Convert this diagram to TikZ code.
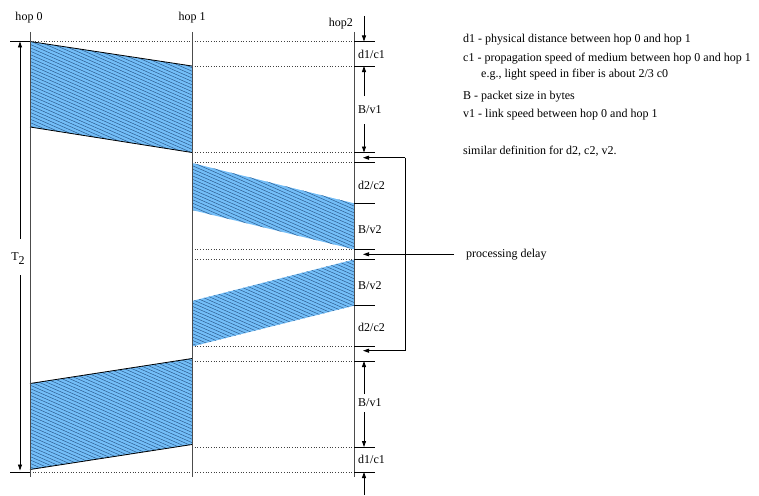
\documentclass[tikz,border=0pt]{standalone}
\usepackage{fontspec}
\setmainfont{Liberation Serif}
\usetikzlibrary{arrows.meta}
\definecolor{pfill}{RGB}{115,190,248}
\definecolor{phatch}{RGB}{40,85,135}
\newcommand{\hatchquad}[5]{%
  \begin{scope}
    \clip #1 -- #2 -- #3 -- #4 -- cycle;
    \fill[pfill] #1 -- #2 -- #3 -- #4 -- cycle;
    \foreach \k in {-175,-171.6,...,110}
      \draw[phatch,line width=0.45pt] (20,#5+\k) -- ++(360,158);
  \end{scope}}
\begin{document}
\begin{tikzpicture}[x=1pt,y=-1pt,
  font=\fontsize{12}{14}\selectfont,
  hopline/.style={draw=black!70,line width=0.8pt},
  dotline/.style={draw=black!75,line width=0.7pt,dotted},
  tickline/.style={draw=black,line width=0.8pt},
  edgeline/.style={draw=black,line width=0.8pt},
  dim/.style={draw=black,line width=0.8pt,-{Triangle[length=6pt,width=4pt]}},
  lbl/.style={inner sep=0pt,anchor=west},
  txt/.style={inner sep=0pt,anchor=base west}]
\useasboundingbox (0,0) rectangle (759,495);
\fill[white] (0,0) rectangle (759,495);

% hatched parallelograms
\coordinate (p1a) at (30,41.5);  \coordinate (p1b) at (192,66);
\coordinate (p1c) at (192,152.5);\coordinate (p1d) at (30,127);
\coordinate (p2a) at (192,163);  \coordinate (p2b) at (354,203.3);
\coordinate (p2c) at (354,249.3);\coordinate (p2d) at (192,210);
\coordinate (p3a) at (192,301);  \coordinate (p3b) at (354,259.5);
\coordinate (p3c) at (354,305.7);\coordinate (p3d) at (192,346.5);
\coordinate (p4a) at (30,383.5); \coordinate (p4b) at (192,358.5);
\coordinate (p4c) at (192,444.5);\coordinate (p4d) at (30,469.5);
\hatchquad{(p1a)}{(p1b)}{(p1c)}{(p1d)}{41.5}
\hatchquad{(p2a)}{(p2b)}{(p2c)}{(p2d)}{163}
\hatchquad{(p3a)}{(p3b)}{(p3c)}{(p3d)}{259.5}
\hatchquad{(p4a)}{(p4b)}{(p4c)}{(p4d)}{358.5}
\draw[edgeline] (p1a) -- (p1b);
\draw[edgeline] (p1d) -- (p1c);
\draw[edgeline] (p4a) -- (p4b);
\draw[edgeline] (p4d) -- (p4c);

% dotted time lines
\draw[dotline] (30,41.5) -- (354,41.5);
\foreach \y in {66,152.5,162.5,249.3,259.3,346,361,447}
  \draw[dotline] (192,\y) -- (354,\y);
\draw[dotline] (30,472) -- (354,472);

% hop lines
\coordinate (h0t) at (30,32);  \coordinate (h0b) at (30,477);
\coordinate (h1t) at (192,32); \coordinate (h1b) at (192,477);
\coordinate (h2t) at (354,32); \coordinate (h2b) at (354,477);
\draw[hopline] (h0t) -- (h0b);
\draw[hopline] (h1t) -- (h1b);
\draw[hopline] (h2t) -- (h2b);
\node[inner sep=0pt] (hop0) at (29,18) {hop 0};
\node[inner sep=0pt] (hop1) at (192,18) {hop 1};
\node[inner sep=0pt,anchor=east] (hop2) at (353,24) {hop2};

% left T2 marker
\draw[tickline] (10,41.5) -- (30,41.5);
\draw[tickline] (10,472) -- (30,472);
\node[inner sep=0pt] (t2) at (18,259) {T\raisebox{-4pt}{2}};
\coordinate (t2u) at (20,239); \coordinate (t2top) at (20,41.5);
\coordinate (t2d) at (20,275); \coordinate (t2bot) at (20,470.5);
\draw[dim] (t2u) -- (t2top);
\draw[dim] (t2d) -- (t2bot);

% hop2 ticks
\foreach \y in {41.5,66,152.5,162.5,203.3,249.3,259.3,305.7,346,361,447,472}
  \draw[tickline] (354,\y) -- (375,\y);

% hop2 labels
\node[lbl] (ldc1) at (358,54) {d1/c1};
\node[lbl] (lbv1) at (358,110) {B/v1};
\node[lbl] (ldc2) at (358,185) {d2/c2};
\node[lbl] (lbv2) at (358,230) {B/v2};
\node[lbl] (lbv2b) at (358,286) {B/v2};
\node[lbl] (ldc2b) at (358,327.5) {d2/c2};
\node[lbl] (lbv1b) at (358,403) {B/v1};
\node[lbl] (ldc1b) at (358,459) {d1/c1};

% dimension arrows at hop2
\coordinate (a0s) at (364,16);   \coordinate (a0e) at (364,41.5);
\coordinate (a1s) at (364,96);   \coordinate (a1e) at (364,66);
\coordinate (a2s) at (364,124);  \coordinate (a2e) at (364,152.5);
\coordinate (a3s) at (364,394);  \coordinate (a3e) at (364,361);
\coordinate (a4s) at (364,412);  \coordinate (a4e) at (364,447);
\coordinate (a5s) at (364,495);  \coordinate (a5e) at (364,472);
\draw[dim] (a0s) -- (a0e);
\draw[dim] (a1s) -- (a1e);
\draw[dim] (a2s) -- (a2e);
\draw[dim] (a3s) -- (a3e);
\draw[dim] (a4s) -- (a4e);
\draw[dim] (a5s) -- (a5e);

% processing delay bracket
\coordinate (bk1) at (405,157.7); \coordinate (bt1) at (363,157.7);
\coordinate (bk2) at (405,350.7); \coordinate (bt2) at (363,350.7);
\draw[dim] (bk1) -- (bt1);
\draw[dim] (bk1) -- (bk2) -- (bt2);
\node[lbl] (pd) at (466,254.5) {processing delay};
\coordinate (pds) at (454,254.3); \coordinate (pde) at (363,254.3);
\draw[dim] (pds) -- (pde);

% legend text
\node[txt] (tx1) at (463,42) {d1 - physical distance between hop 0 and hop 1};
\node[txt] (tx2) at (463,61) {c1 - propagation speed of medium between hop 0 and hop 1};
\node[txt] (tx3) at (481,77) {e.g., light speed in fiber is about 2/3 c0};
\node[txt] (tx4) at (463,99) {B - packet size in bytes};
\node[txt] (tx5) at (463,117) {v1 - link speed between hop 0 and hop 1};
\node[txt] (tx6) at (463,154) {similar definition for d2, c2, v2.};
\end{tikzpicture}
\end{document}
